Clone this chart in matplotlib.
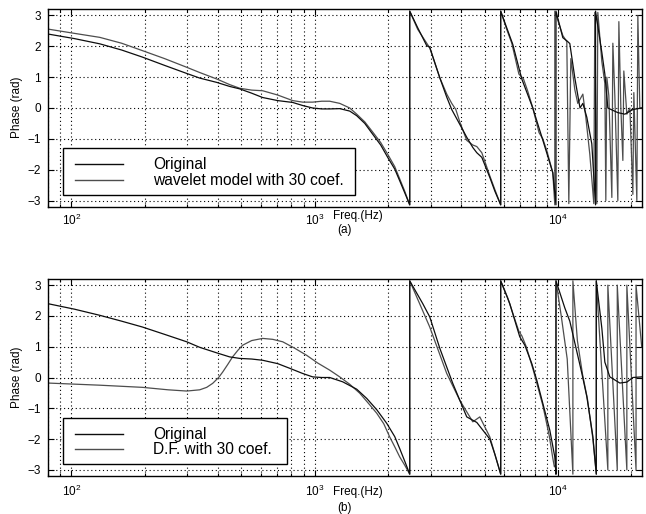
import numpy as np
import matplotlib
matplotlib.use('Agg')
import matplotlib.pyplot as plt
from matplotlib.ticker import FixedLocator, FixedFormatter, LogLocator, NullFormatter
from matplotlib.patches import Rectangle
from matplotlib.lines import Line2D

plt.rcParams['font.family'] = ['Liberation Sans', 'DejaVu Sans']
plt.rcParams['mathtext.fontset'] = 'custom'
plt.rcParams['mathtext.rm'] = 'Liberation Sans'
plt.rcParams['mathtext.it'] = 'Liberation Sans:italic'

PI = 3.14

# ---- panel (a): original vs wavelet model ----
a_orig_f = [80, 103, 131, 161, 196, 242, 298, 337, 396, 447, 492, 551, 611, 705, 812, 893, 981, 1069, 1152,
            1267, 1393, 1488, 1606, 1731, 1867, 1995, 2132, 2235, 2344, 2457,
            2457, 2650, 2886, 2969, 3265, 3488, 3656, 3945, 4214, 4462, 4634, 4859, 5241, 5500, 5810,
            5810, 6150, 6514, 7093, 7870, 8652, 9511, 9800,
            9800, 10455, 10857, 11170, 11710, 12300, 12636, 13120, 13753, 14250,
            14250, 15124, 15560, 16007, 17595, 18800, 20280, 22050]
a_orig_p = [2.40, 2.25, 2.08, 1.88, 1.65, 1.38, 1.12, 0.97, 0.83, 0.70, 0.62, 0.48, 0.34, 0.24, 0.18, 0.08, 0.0, -0.03, -0.03,
            -0.02, -0.10, -0.25, -0.50, -0.85, -1.20, -1.60, -1.98, -2.36, -2.75, -PI,
            PI, 2.60, 2.02, 1.97, 0.98, 0.35, -0.05, -0.53, -0.95, -1.28, -1.45, -1.60, -2.25, -2.70, -PI,
            PI, 2.60, 2.06, 0.94, 0.0, -1.04, -2.10, -PI,
            PI, 2.28, 2.18, 2.09, 0.98, 0.0, 0.15, -0.30, -1.16, -PI,
            PI, 1.80, 1.10, 0.0, -0.15, -0.20, -0.05, 0.0]

a_wav_f = [80, 103, 131, 161, 196, 242, 298, 337, 396, 447, 492, 551, 611, 705, 812, 893, 981, 1069, 1152,
           1267, 1393, 1488, 1606, 1731, 1867, 1995, 2132, 2235, 2344, 2457,
           2457, 2650, 2969, 3265, 3488, 3656, 3800, 3945, 4214, 4462, 4634, 4859, 5241, 5500, 5810,
           5810, 6150, 6453, 6900, 7200, 7500, 7870, 8350, 8652, 9000, 9511, 9692,
           9692, 10455, 10857, 11066, 11277, 11710, 12045, 12636, 12996, 13496, 14018,
           14150, 14420, 14560, 15124, 15560, 15703, 15852, 16158, 16625, 16783, 17100,
           17595, 17765, 18104, 18450, 18620, 19160, 19720, 20280, 20470, 21060, 21260, 21660, 22050]
a_wav_p = [2.56, 2.42, 2.29, 2.10, 1.86, 1.60, 1.32, 1.15, 0.94, 0.76, 0.64, 0.58, 0.56, 0.42, 0.24, 0.19, 0.19, 0.22, 0.22,
           0.15, 0.0, -0.20, -0.45, -0.78, -1.12, -1.50, -1.90, -2.30, -2.70, -PI,
           PI, 2.55, 1.95, 0.98, 0.45, 0.15, -0.05, -0.45, -1.05, -1.20, -1.25, -1.45, -2.20, -2.65, -PI,
           PI, 2.55, 2.10, 1.10, 0.95, 0.55, 0.0, -0.80, -1.00, -1.40, -2.10, -PI,
           PI, 2.35, 2.15, -3.10, 1.60, 0.60, 0.15, 0.45, -0.30, -1.50, -3.10,
           3.10, -3.10, 3.10, 1.50, 0.80, -3.00, 1.00, 0.40, -2.90, 2.10, 0.40,
           -3.00, 2.80, 0.0, -1.70, 1.20, -0.20, 0.0, -2.80, 0.50, -3.00, 3.00, 0.0, 0.0]

# ---- panel (b): original vs D.F. model ----
b_orig_f = [80, 103, 131, 161, 196, 242, 298, 337, 396, 447, 492, 551, 611, 705, 789, 893, 981, 1069, 1152,
            1303, 1488, 1636, 1800, 1977, 2132, 2235, 2344, 2457,
            2457, 2600, 2779, 2969, 3265, 3691, 4214, 4634, 5241, 5500, 5810,
            5810, 6330, 6765, 6960, 7297, 7798, 8174, 8652, 9243, 9692, 9800,
            9800, 10654, 11170, 12515, 13120, 13884, 14350,
            14350, 15124, 15560, 16313, 17930, 19160, 20280, 22050]
b_orig_p = [2.40, 2.22, 2.02, 1.83, 1.64, 1.40, 1.16, 0.98, 0.80, 0.67, 0.62, 0.60, 0.56, 0.45, 0.30, 0.13, 0.02, 0.0, 0.0,
            -0.14, -0.38, -0.68, -1.05, -1.49, -1.92, -2.31, -2.72, -PI,
            PI, 2.80, 2.40, 1.97, 0.95, -0.19, -1.28, -1.46, -2.00, -2.50, -PI,
            PI, 2.40, 1.64, 1.32, 1.05, 0.45, -0.09, -0.84, -1.71, -2.58, -PI,
            PI, 2.26, 1.83, 0.14, -0.62, -1.90, -PI,
            PI, 1.60, 0.50, 0.02, -0.18, -0.15, 0.0, 0.02]

b_df_f = [80, 131, 196, 250, 298, 337, 360, 381, 403, 419, 439, 460, 483, 506, 551, 611, 672, 739, 828, 927,
          1029, 1152, 1267, 1393, 1531, 1667, 1798, 1921, 2033, 2132, 2235, 2344, 2457,
          2457, 2969, 3487, 3945, 4462, 4768, 5241, 5810,
          5810, 6200, 6600, 6900, 7100, 7400, 7900, 8650, 9200, 9500, 9650, 9750, 9800,
          9800, 10300, 10900, 11500,
          11500, 12000, 12600, 13200, 13900, 14350,
          14350, 16007, 16007, 17500, 17500, 19160, 19160, 20900, 20900, 22050]
b_df_p = [-0.18, -0.25, -0.32, -0.40, -0.44, -0.40, -0.32, -0.19, 0.0, 0.18, 0.42, 0.67, 0.88, 1.05, 1.20, 1.27, 1.24, 1.16, 0.95, 0.72,
          0.47, 0.24, 0.02, -0.22, -0.51, -0.85, -1.16, -1.50, -1.93, -2.25, -2.58, -2.85, -PI,
          PI, 1.64, 0.13, -0.74, -1.44, -1.28, -1.93, -PI,
          PI, 2.60, 1.95, 1.50, 1.35, 1.00, 0.25, -0.90, -1.90, -2.60, -2.90, -2.85, -PI,
          PI, 2.00, 0.60, -PI,
          PI, 1.20, 0.10, -0.70, -2.00, -PI,
          PI, -3.0, 3.0, -3.0, 3.0, -3.0, 3.0, -3.0, 3.0, 1.0]

xticks = [100, 1000, 10000]
xtick_labels = ['$10^{2}$', '$10^{3}$', '$10^{4}$']
yticks = [-3, -2, -1, 0, 1, 2, 3]
ytick_labels = ['\u22123', '\u22122', '\u22121', '0', '1', '2', '3']

W, H = 646, 514
fig = plt.figure(figsize=(W / 100, H / 100), dpi=100)


def fx(x):
    return x / W


def fy(y):
    return 1 - y / H


def setup(ax, xpad):
    ax.set_xscale('log')
    ax.set_xlim(80, 22050)
    ax.set_ylim(-3.2, 3.2)
    ax.xaxis.set_major_locator(FixedLocator(xticks))
    ax.xaxis.set_major_formatter(FixedFormatter(xtick_labels))
    ax.xaxis.set_minor_locator(LogLocator(base=10, subs=np.arange(2, 10)))
    ax.xaxis.set_minor_formatter(NullFormatter())
    ax.yaxis.set_major_locator(FixedLocator(yticks))
    ax.yaxis.set_major_formatter(FixedFormatter(ytick_labels))
    ax.tick_params(which='both', direction='in', top=True, right=True,
                   labelsize=8.5, width=0.8)
    ax.tick_params(which='major', length=4)
    ax.tick_params(axis='y', which='major', pad=5)
    ax.tick_params(axis='x', which='major', pad=xpad)
    ax.tick_params(which='minor', length=2.5)
    grid_kw = dict(color='k', linestyle=(0, (1, 2.5)), linewidth=0.8)
    ax.grid(True, which='both', axis='x', **grid_kw)
    ax.grid(True, which='major', axis='y', **grid_kw)
    for s in ax.spines.values():
        s.set_linewidth(1.0)


def legend_box(x0, y0, x1, y1, rows, labels, colors):
    fig.patches.append(Rectangle((fx(x0), fy(y1)), fx(x1) - fx(x0), fy(y0) - fy(y1),
                                 transform=fig.transFigure, facecolor='white',
                                 edgecolor='k', linewidth=1.0, zorder=5))
    for yy, lab, c in zip(rows, labels, colors):
        fig.lines.append(Line2D([fx(x0 + 12), fx(x0 + 60)], [fy(yy), fy(yy)],
                                transform=fig.transFigure, color=c, lw=1.0, zorder=6))
        fig.text(fx(x0 + 90), fy(yy + 1), lab, fontsize=11.2, va='center', ha='left', zorder=7)


c_orig = '0.05'
c_mod = '0.3'

ax_a = fig.add_axes([fx(47.7), fy(206.7), fx(641.7) - fx(47.7), fy(9.3) - fy(206.7)])
setup(ax_a, 4.5)
ax_a.plot(a_wav_f, a_wav_p, color=c_mod, lw=0.9)
ax_a.plot(a_orig_f, a_orig_p, color=c_orig, lw=0.9)

ax_b = fig.add_axes([fx(47.7), fy(476), fx(641.7) - fx(47.7), fy(279) - fy(476)])
setup(ax_b, 5.5)
ax_b.plot(b_df_f, b_df_p, color=c_mod, lw=0.9)
ax_b.plot(b_orig_f, b_orig_p, color=c_orig, lw=0.9)

legend_box(63, 148, 355, 195, [163.5, 179.5], ['Original', 'wavelet model with 30 coef.'], [c_orig, c_mod])
legend_box(63, 418, 287, 464, [433.5, 449], ['Original', 'D.F. with 30 coef.'], [c_orig, c_mod])

for ycen, xl_y, sub_y, sub in [(107.3, 216, 230, '(a)'), (377.3, 492, 508, '(b)')]:
    fig.text(fx(17), fy(ycen), 'Phase (rad)', rotation=90, fontsize=8.5, ha='center', va='center')
    fig.text(fx(333), fy(xl_y), 'Freq.(Hz)', fontsize=8.5, ha='left', va='center')
    fig.text(fx(345), fy(sub_y), sub, fontsize=8.5, ha='center', va='center')

fig.savefig('out.png', dpi=100)
